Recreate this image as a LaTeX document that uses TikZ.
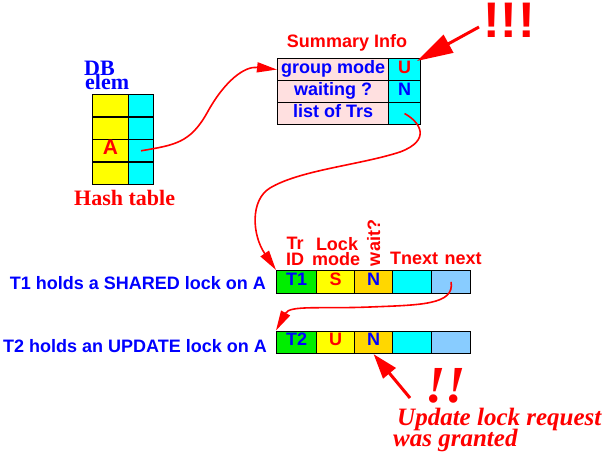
\documentclass[tikz,border=0pt]{standalone}
\usepackage{fontspec}
\setmainfont{Liberation Serif}
\newfontfamily\sansf{Liberation Sans}
\usetikzlibrary{arrows.meta}
\definecolor{cgreen}{HTML}{00EE00}
\definecolor{cyel}{HTML}{FFFF00}
\definecolor{cgold}{HTML}{FFD700}
\definecolor{ccyan}{HTML}{00FFFF}
\definecolor{clblue}{HTML}{88CCFF}
\definecolor{cpink}{HTML}{FFE0E0}
\definecolor{cblue}{HTML}{0000FF}
\definecolor{cred}{HTML}{FF0000}
\tikzset{
  cell/.style={draw=black, line width=1.1pt, anchor=north west, inner sep=0pt,
    text height=12pt, text depth=5pt, font=\sansf\bfseries\fontsize{18}{18}\selectfont},
  sanslab/.style={inner sep=0pt, font=\sansf\bfseries\fontsize{18}{18}\selectfont},
  seriflab/.style={inner sep=0pt, font=\bfseries\fontsize{22}{22}\selectfont},
  thinarrow/.style={draw=cred, line width=1.6pt, -{Triangle[length=20pt,width=10pt]}},
  thickarrow/.style={draw=cred, line width=3pt, -{Triangle[length=36pt,width=20pt]}},
}
\begin{document}
\begin{tikzpicture}[x=1pt,y=-1pt]
\useasboundingbox (0,0) rectangle (612,454);
% hash table
\foreach \i/\t in {1/,2/,3/A,4/}{
  \node[cell, fill=cyel, text=cred, font=\sansf\bfseries\fontsize{21}{21}\selectfont, minimum width=36pt, minimum height=22.5pt] (h\i y) at (92,{94+22.5*(\i-1)}) {\t};
  \node[cell, fill=ccyan, minimum width=25pt, minimum height=22.5pt] (h\i c) at (128,{94+22.5*(\i-1)}) {};
}
\node[seriflab, text=cblue, anchor=base west] (db) at (84,75.5) {DB};
\node[seriflab, text=cblue, anchor=base west] (elem) at (85,90) {elem};
\node[seriflab, text=cred, anchor=base west] (hash) at (74,206) {Hash table};
% summary info
\node[sanslab, text=cred, anchor=base] (sumlab) at (347,48) {Summary Info};
\node[cell, fill=cpink, text=cblue, minimum width=111pt, minimum height=22pt] (gm) at (277,58) {group mode};
\node[cell, fill=ccyan, text=cred, minimum width=32pt, minimum height=22pt] (gmv) at (388,58) {U};
\node[cell, fill=cpink, text=cblue, minimum width=111pt, minimum height=22pt] (wt) at (277,80) {waiting ?};
\node[cell, fill=ccyan, text=cblue, minimum width=32pt, minimum height=22pt] (wtv) at (388,80) {N};
\node[cell, fill=cpink, text=cblue, minimum width=111pt, minimum height=22pt] (lt) at (277,102) {list of Trs};
\node[cell, fill=ccyan, minimum width=32pt, minimum height=22pt] (ltv) at (388,102) {};
% lock table rows
\foreach \r/\y/\id/\m in {1/270/T1/S, 2/330.5/T2/U}{
  \node[cell, fill=cgreen, text=cblue, minimum width=40pt, minimum height=22.5pt] (id\r) at (276,\y) {\id};
  \node[cell, fill=cyel, text=cred, minimum width=38pt, minimum height=22.5pt] (md\r) at (316,\y) {\m};
  \node[cell, fill=cgold, text=cblue, minimum width=38pt, minimum height=22.5pt] (wa\r) at (354,\y) {N};
  \node[cell, fill=ccyan, minimum width=39pt, minimum height=22.5pt] (tn\r) at (392,\y) {};
  \node[cell, fill=clblue, minimum width=39pt, minimum height=22.5pt] (nx\r) at (431,\y) {};
}
\node[sanslab, text=cblue, anchor=base east] (t1lab) at (266,289) {T1 holds a SHARED lock on A};
\node[sanslab, text=cblue, anchor=base east] (t2lab) at (267,352) {T2 holds an UPDATE lock on A};
% column headers
\node[sanslab, text=cred, anchor=base] (trh) at (295,249) {Tr};
\node[sanslab, text=cred, anchor=base] (idh) at (295,265) {ID};
\node[sanslab, text=cred, anchor=base] (lockh) at (337,250) {Lock};
\node[sanslab, text=cred, anchor=base] (modeh) at (336,265) {mode};
\node[sanslab, text=cred, anchor=base, rotate=90] (waith) at (380,243) {wait?};
\node[sanslab, text=cred, anchor=base] (tnh) at (414,264) {Tnext};
\node[sanslab, text=cred, anchor=base] (nxh) at (463,264) {next};
% exclamations
\node[inner sep=0pt, text=cred, anchor=base, font=\sansf\bfseries\fontsize{50}{50}\selectfont] (ex3) at (509,38) {!\kern1pt!\kern1pt!};
\node[inner sep=0pt, text=cred, anchor=base, font=\bfseries\itshape\fontsize{52}{52}\selectfont] (ex2) at (446,402) {!!};
\node[inner sep=0pt, text=cred, anchor=base west, font=\bfseries\itshape\fontsize{25}{25}\selectfont] (upd1) at (397,425) {Update lock request};
\node[inner sep=0pt, text=cred, anchor=base west, font=\bfseries\itshape\fontsize{25}{25}\selectfont] (upd2) at (393,446) {was granted};
% arrows
\coordinate (bigtail) at (479,27);
\coordinate (bigtip) at (417,61);
\coordinate (smalltail) at (410,398);
\draw[thinarrow] (h3c.center) .. controls (175,145) and (190,143) .. (207,113) .. controls (225,80) and (245,66) .. (gm.west);
\draw[thinarrow] (ltv.center) .. controls (420,122) and (432,140) .. (400,152) .. controls (360,165) and (300,170) .. (270,188) .. controls (250,200) and (252,235) .. (id1.north west);
\draw[thinarrow] (nx1.center) .. controls (455,305) and (420,305) .. (370,307) .. controls (320,309) and (290,305) .. (id2.north west);
\draw[thickarrow] (bigtail) -- (bigtip);
\draw[draw=cred, line width=3pt, -{Triangle[length=25pt,width=16pt]}] (smalltail) -- (wa2.south);
\end{tikzpicture}
\end{document}
